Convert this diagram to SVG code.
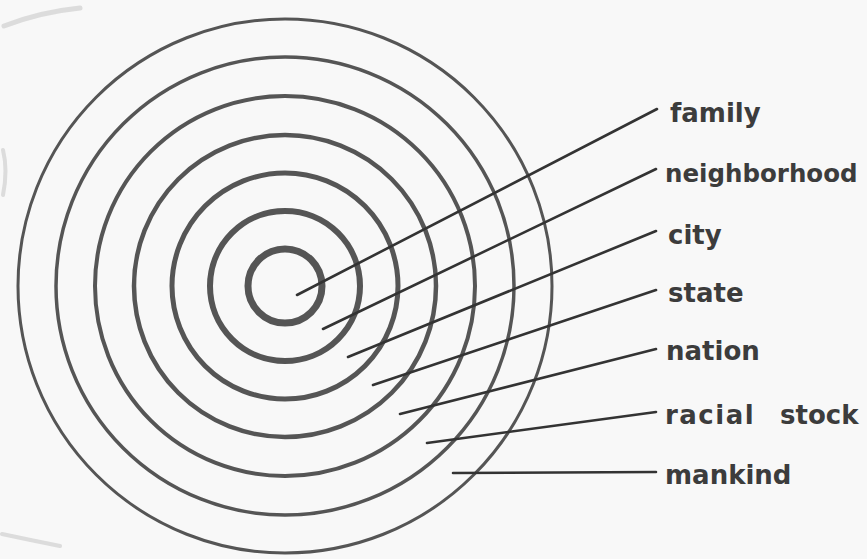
<svg xmlns="http://www.w3.org/2000/svg" width="867" height="559" viewBox="0 0 867 559">
  <style>
    .ring { fill: none; stroke: #555; }
    .lead { fill: none; stroke: #333; stroke-width: 2.6; stroke-linecap: round; stroke-linejoin: round; }
    .lbl { font-family: "DejaVu Sans", "Liberation Sans", sans-serif; font-weight: bold; font-size: 26px; fill: #3c3c3c; }
    .smudge { fill: none; stroke: #c4c4c4; stroke-linecap: round; opacity: 0.55; }
  </style>
  <rect width="867" height="559" fill="#f8f8f8"/>
  <g id="scan-marks">
    <path class="smudge" d="M4 26 Q 40 12 80 8" stroke-width="5"/>
    <path class="smudge" d="M3 150 Q 8 170 3 195" stroke-width="4"/>
    <path class="smudge" d="M2 534 Q 30 540 60 546" stroke-width="4"/>
  </g>
  <g id="rings">
    <circle id="ring-family" class="ring" cx="285" cy="286" r="37" stroke-width="7"/>
    <circle id="ring-neighborhood" class="ring" cx="285" cy="286" r="75" stroke-width="6"/>
    <circle id="ring-city" class="ring" cx="285" cy="286" r="113" stroke-width="5"/>
    <circle id="ring-state" class="ring" cx="285" cy="286" r="151" stroke-width="4.5"/>
    <circle id="ring-nation" class="ring" cx="285" cy="286" r="190" stroke-width="4"/>
    <circle id="ring-racial-stock" class="ring" cx="285" cy="286" r="229" stroke-width="3.5"/>
    <circle id="ring-mankind" class="ring" cx="285" cy="286" r="267" stroke-width="3"/>
  </g>
  <g id="connectors">
    <path class="lead" d="M297 295 L657 109"/>
    <path class="lead" d="M323 329 L656 169"/>
    <path class="lead" d="M348 357 L656 231"/>
    <path class="lead" d="M373 385 L656 290"/>
    <path class="lead" d="M400 414 L656 349"/>
    <path class="lead" d="M427 443 L656 412"/>
    <path class="lead" d="M453 473 L656 472"/>
  </g>
  <g id="label-family"><text class="lbl" x="670" y="122">family</text></g>
  <g id="label-neighborhood"><text class="lbl" x="665" y="182" style="font-size:24.5px">neighborhood</text></g>
  <g id="label-city"><text class="lbl" x="668" y="244">city</text></g>
  <g id="label-state"><text class="lbl" x="668" y="302">state</text></g>
  <g id="label-nation"><text class="lbl" x="666" y="360">nation</text></g>
  <g id="label-racial-stock"><text class="lbl" x="665" y="424"><tspan letter-spacing="1.5">racial</tspan> <tspan x="780">stock</tspan></text></g>
  <g id="label-mankind"><text class="lbl" x="665" y="484">mankind</text></g>
</svg>
